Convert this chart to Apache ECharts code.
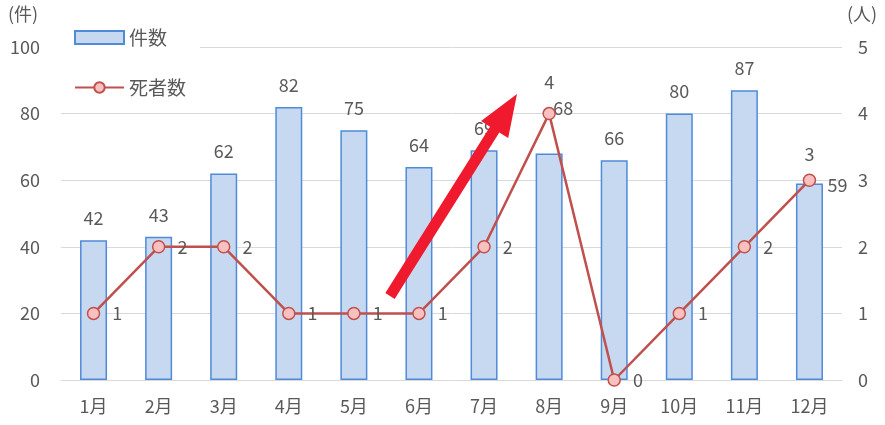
<!DOCTYPE html>
<html><head><meta charset="utf-8">
<script src="https://cdn.jsdelivr.net/npm/echarts@6/dist/echarts.min.js"></script>
<style>html,body{margin:0;padding:0;background:#fff}#c{width:885px;height:425px}</style>
</head><body><div id="c"></div>
<script>
const months = ['1月','2月','3月','4月','5月','6月','7月','8月','9月','10月','11月','12月'];
const counts = [42,43,62,82,75,64,69,68,66,80,87,59];
const deaths = [1,2,2,1,1,1,2,4,0,1,2,3];
const leftTicks = {min:0, max:100, interval:20};
const rightTicks = {min:0, max:5, interval:1};

const FONT = '"Noto Sans CJK JP","Noto Sans",sans-serif';
const GRAY = '#595959';

const barData = counts.map((v,i)=>{
  const d = {value:v};
  if (i===7) d.label = {offset:[14,-23]};
  if (i===11) d.label = {offset:[28,24]};
  return d;
});
const lineData = deaths.map((v,i)=>{
  const d = {value:v};
  if (i===7) d.label = {position:'top', distance:16};
  if (i===11) d.label = {position:'top', distance:10};
  return d;
});

// annotation arrow
function arrowPoly(x0,y0,x1,y1,shaftHalf,headLen,headHalf){
  const dx=x1-x0, dy=y1-y0, L=Math.hypot(dx,dy);
  const ux=dx/L, uy=dy/L, nx=-uy, ny=ux;
  const bx=x1-ux*headLen, by=y1-uy*headLen;
  return [
    [x0+nx*shaftHalf, y0+ny*shaftHalf],
    [bx+nx*shaftHalf, by+ny*shaftHalf],
    [bx+nx*headHalf, by+ny*headHalf],
    [x1,y1],
    [bx-nx*headHalf, by-ny*headHalf],
    [bx-nx*shaftHalf, by-ny*shaftHalf],
    [x0-nx*shaftHalf, y0-ny*shaftHalf]
  ];
}

const chart = echarts.init(document.getElementById('c'));
chart.setOption({
  animation:false,
  textStyle:{fontFamily:FONT},
  grid:{left:61,right:43,top:47,bottom:45},
  legend:{
    orient:'vertical', left:61, top:18,
    padding:[10,14,14,13],
    backgroundColor:'#fff',
    itemWidth:49, itemHeight:13, itemGap:31,
    textStyle:{color:GRAY,fontSize:19,fontFamily:FONT},
    data:[{name:'件数',icon:'rect'},{name:'死者数'}]
  },
  xAxis:{
    type:'category', data:months,
    axisLine:{lineStyle:{color:'#d9d9d9'}},
    axisTick:{show:false},
    axisLabel:{color:GRAY,fontSize:18,margin:17}
  },
  yAxis:[
    {type:'value', ...leftTicks,
     axisLabel:{color:GRAY,fontSize:18,margin:21},
     splitLine:{lineStyle:{color:'#d9d9d9'}},
     axisLine:{show:false}, axisTick:{show:false}},
    {type:'value', ...rightTicks,
     axisLabel:{color:GRAY,fontSize:18,margin:16},
     splitLine:{show:false},
     axisLine:{show:false}, axisTick:{show:false}}
  ],
  series:[
    {name:'件数', type:'bar', data:barData, barWidth:27,
     itemStyle:{color:'#c6d9f1',borderColor:'#4f8bd9',borderWidth:1.5},
     label:{show:true,position:'top',distance:13,color:GRAY,fontSize:18}},
    {name:'死者数', type:'line', yAxisIndex:1, data:lineData,
     symbol:'circle', symbolSize:12,
     lineStyle:{color:'#c0504d',width:2.5},
     itemStyle:{color:'#f9c0c0',borderColor:'#c0504d',borderWidth:1.5},
     label:{show:true,position:'right',distance:12,color:GRAY,fontSize:18}}
  ],
  graphic:[
    {type:'text', left:8, top:5, style:{text:'(件)',fill:GRAY,fontSize:18,fontFamily:FONT}},
    {type:'text', left:847, top:5, style:{text:'(人)',fill:GRAY,fontSize:18,fontFamily:FONT}},
    {type:'polygon', z:100, shape:{points:arrowPoly(390,296,517,94,5.5,42,16)}, style:{fill:'#ef1a2d'}}
  ]
});
</script></body></html>
